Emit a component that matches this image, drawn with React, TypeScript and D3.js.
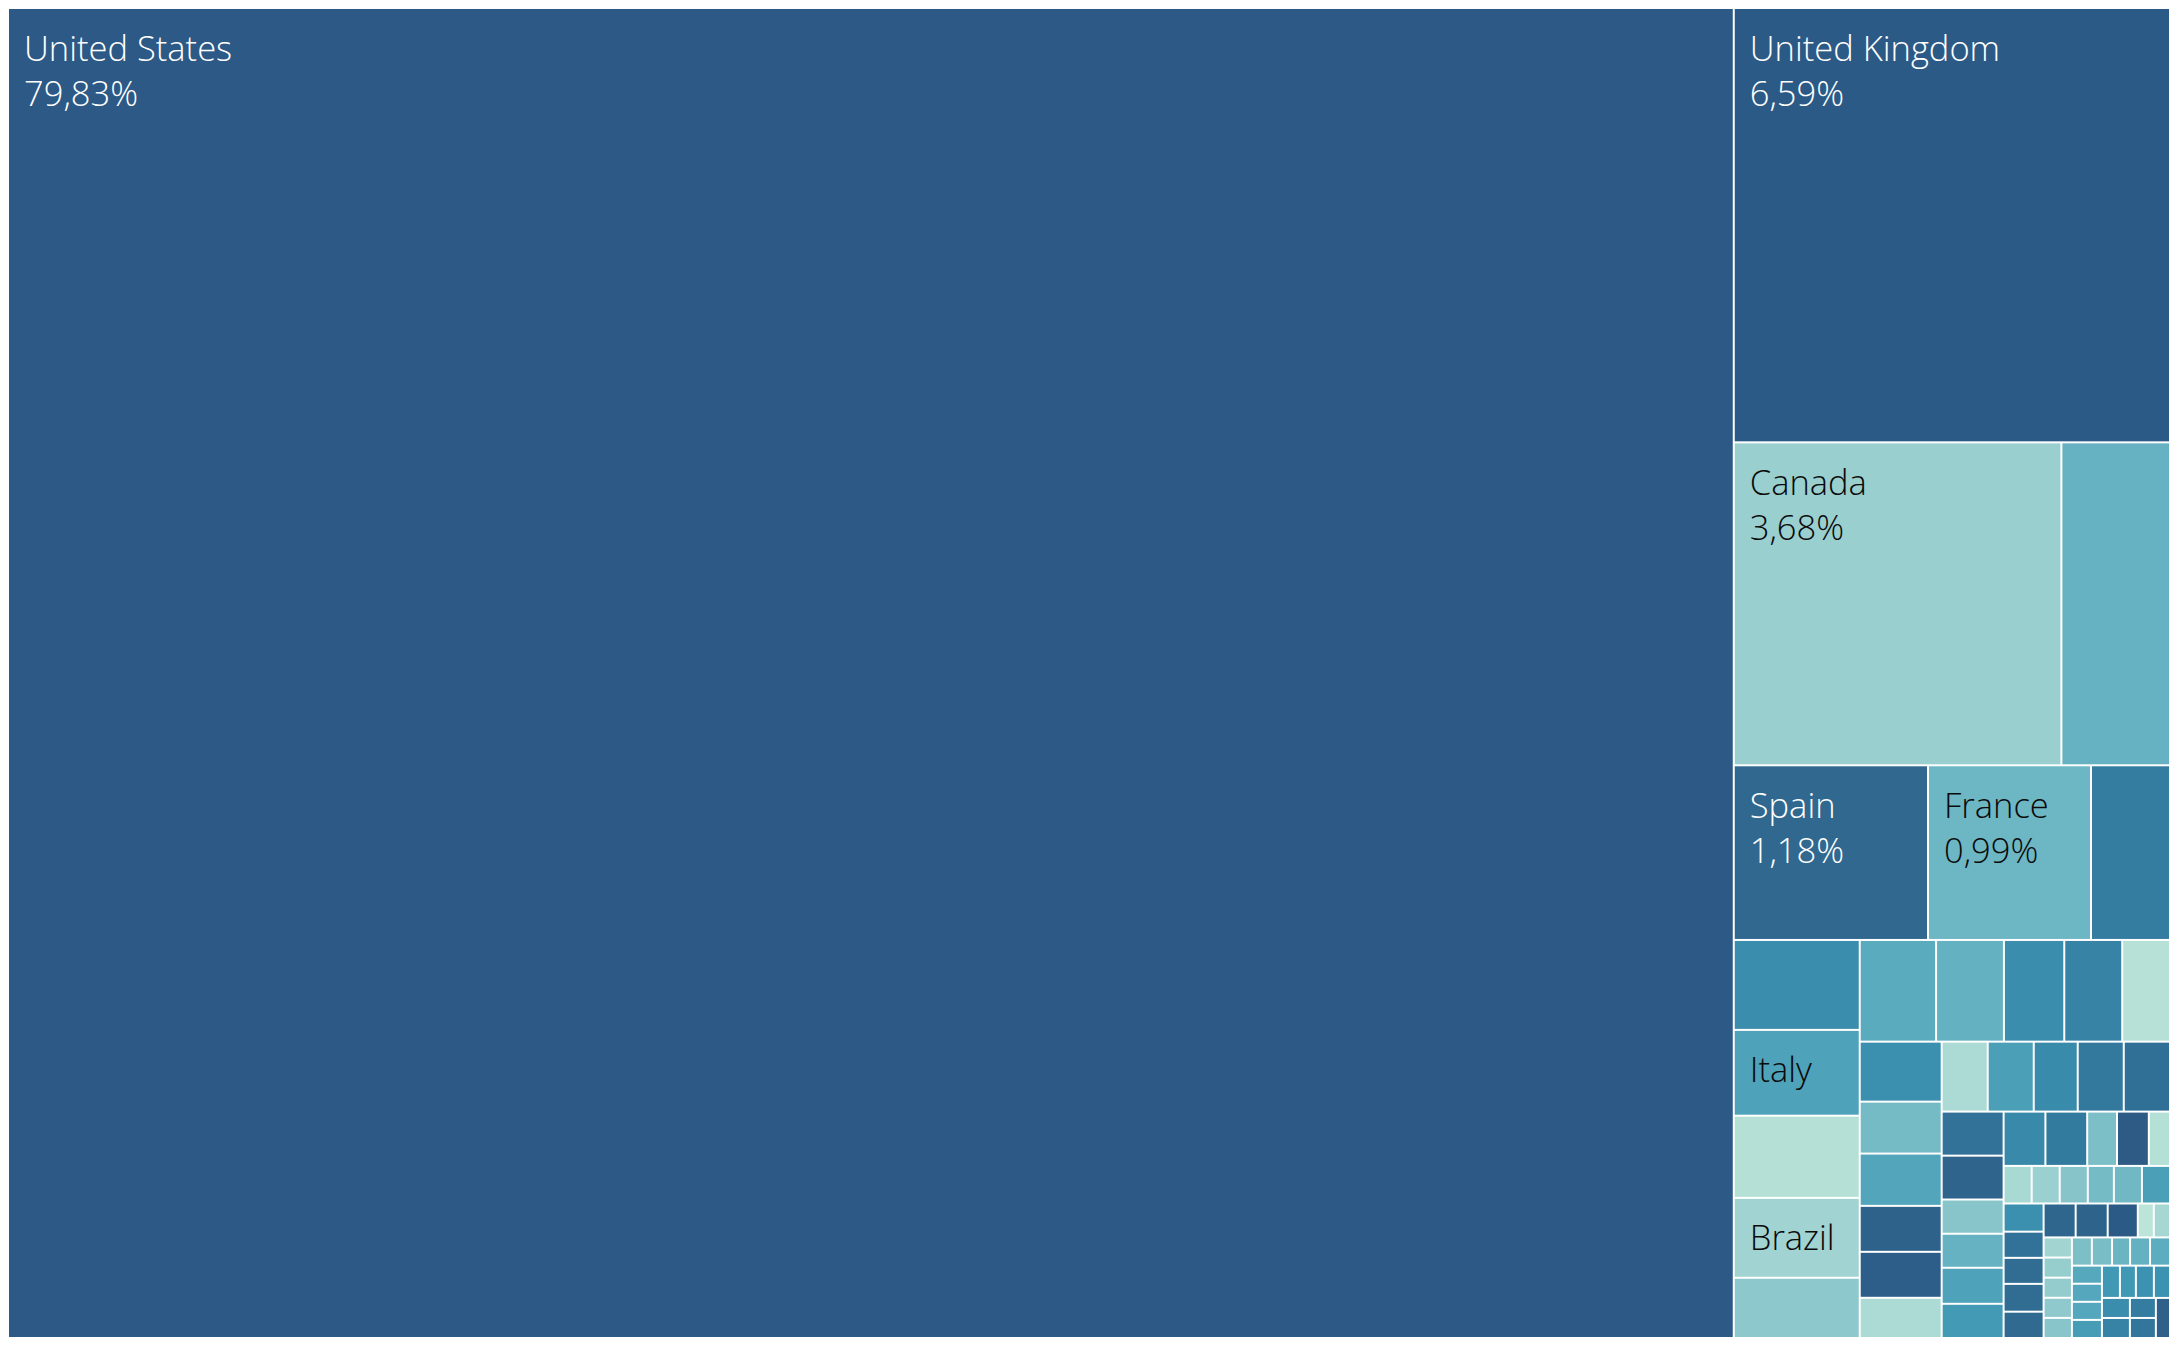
import React, { useEffect, useRef } from "react";
import * as d3 from "d3";

// share of total, in %, in the order Tableau lays the boxes out
const countries = [
  "United States", "United Kingdom", "Canada", "Germany", "Spain", "France", "Netherlands",
  "Australia", "Italy", "Argentina", "Brazil", "Mexico",
  "Sweden", "Ireland", "Belgium", "Switzerland", "Poland",
  "India", "Portugal", "Denmark", "Norway", "New Zealand", "Austria",
  "Chile", "Colombia", "South Africa", "Finland", "Israel",
  "Greece", "Turkey", "Romania", "Czech Republic", "Philippines", "Singapore",
  "Hungary", "Peru", "Malaysia", "Croatia", "Ukraine",
  "Thailand", "Indonesia", "South Korea", "Puerto Rico", "Uruguay", "Costa Rica",
  "Ecuador", "Slovakia", "Serbia", "Bulgaria", "Iceland",
  "Estonia", "Lithuania", "Slovenia", "Latvia", "Luxembourg",
  "Venezuela", "Guatemala", "Panama", "Dominican Republic", "Cyprus",
  "Malta", "Egypt", "Morocco", "Nigeria", "Kenya",
  "United Arab Emirates", "Saudi Arabia", "Hong Kong", "Taiwan",
  "Vietnam", "Pakistan", "Jamaica", "Bolivia",
  "Paraguay", "El Salvador", "Honduras", "Belarus", "Georgia",
];

const shares = [
  79.83, 6.59, 3.68, 1.22, 1.18, 0.99, 0.48,
  0.394, 0.376, 0.36, 0.35, 0.264,
  0.27, 0.24, 0.2135, 0.205, 0.169,
  0.171, 0.148, 0.149, 0.131, 0.131, 0.1146,
  0.112, 0.112, 0.107, 0.112, 0.1125,
  0.0949, 0.0945, 0.0737, 0.0733, 0.0776, 0.0737,
  0.0789, 0.0789, 0.0563, 0.0601, 0.04,
  0.0367, 0.0367, 0.0367, 0.0341, 0.0367, 0.0367,
  0.0392, 0.0364, 0.0362, 0.0387, 0.0366,
  0.0378, 0.0378, 0.0355, 0.0189, 0.0191,
  0.0198, 0.0198, 0.0198, 0.0198, 0.0198,
  0.0196, 0.0198, 0.0177, 0.0196, 0.0196,
  0.0189, 0.0189, 0.0189, 0.0189,
  0.0202, 0.0179, 0.0202, 0.0181,
  0.0195, 0.0195, 0.0181, 0.0181, 0.0197,
];

// colour measure, 0 = mint, 1 = dark blue
const shades = [
  1.0, 0.99, 0.15, 0.36, 0.86, 0.33, 0.7,
  0.6, 0.47, 0.03, 0.12, 0.2,
  0.41, 0.37, 0.6, 0.66, 0.02,
  0.58, 0.3, 0.45, 0.92, 0.95, 0.07,
  0.07, 0.48, 0.61, 0.73, 0.8,
  0.78, 0.9, 0.22, 0.36, 0.47, 0.52,
  0.62, 0.72, 0.27, 0.98, 0.03,
  0.08, 0.14, 0.23, 0.3, 0.32, 0.48,
  0.58, 0.78, 0.82, 0.82, 0.84,
  0.88, 0.91, 0.99, 0.0, 0.09,
  0.11, 0.16, 0.17, 0.19, 0.22,
  0.27, 0.28, 0.34, 0.37, 0.4,
  0.43, 0.44, 0.44, 0.5,
  0.53, 0.53, 0.56, 0.56,
  0.6, 0.66, 0.7, 0.75, 0.93,
];

const W = 2162;
const H = 1330;
const FONT = '300 34.5px "Open Sans"';

const color = d3
  .scaleLinear<string>()
  .domain([0, 0.2, 0.4, 0.55, 0.7, 0.85, 1])
  .range(["#bce4d8", "#8dc8cc", "#5cadbf", "#3d95b2", "#347da1", "#306990", "#2c5985"]);

const fmt = (v: number) => v.toFixed(2).replace(".", ",") + "%";

export default function App() {
  const ref = useRef<SVGSVGElement>(null);

  useEffect(() => {
    const svg = d3.select(ref.current);
    svg.selectAll("*").remove();

    const ctx = document.createElement("canvas").getContext("2d")!;
    ctx.font = FONT;
    const measure = (s: string) => ctx.measureText(s).width;

    const data = {
      name: "root",
      children: countries.map((c, i) => ({ name: c, value: shares[i], shade: shades[i] })),
    };
    const root = d3.hierarchy<any>(data).sum((d) => (d.children ? 0 : d.value));
    d3.treemap<any>().size([W, H]).tile(d3.treemapSquarify)(root);

    const cell = svg
      .selectAll("g")
      .data(root.leaves())
      .join("g");

    cell
      .append("rect")
      .attr("x", (d: any) => d.x0 + 1)
      .attr("y", (d: any) => d.y0 + 1)
      .attr("width", (d: any) => Math.max(0, d.x1 - d.x0 - 2))
      .attr("height", (d: any) => Math.max(0, d.y1 - d.y0 - 2))
      .attr("fill", (d: any) => color(d.data.shade));

    cell.each(function (d: any) {
      const w = d.x1 - d.x0;
      const h = d.y1 - d.y0;
      const fill = color(d.data.shade);
      const txt = d3.lab(fill).l < 55 ? "#ffffff" : "#0a0a0a";
      const g = d3.select(this);
      if (h >= 70 && w >= measure(d.data.name) + 24) {
        g.append("text")
          .attr("x", d.x0 + 16)
          .attr("y", d.y0 + 52.5)
          .attr("fill", txt)
          .style("font", FONT)
          .text(d.data.name);
        const pct = fmt(d.data.value);
        if (h >= 120 && w >= measure(pct) + 24) {
          g.append("text")
            .attr("x", d.x0 + 16)
            .attr("y", d.y0 + 97.5)
            .attr("fill", txt)
            .style("font", FONT)
            .text(pct);
        }
      }
    });
  }, []);

  return <svg ref={ref} width={W} height={H} style={{ display: "block" }} />;
}
